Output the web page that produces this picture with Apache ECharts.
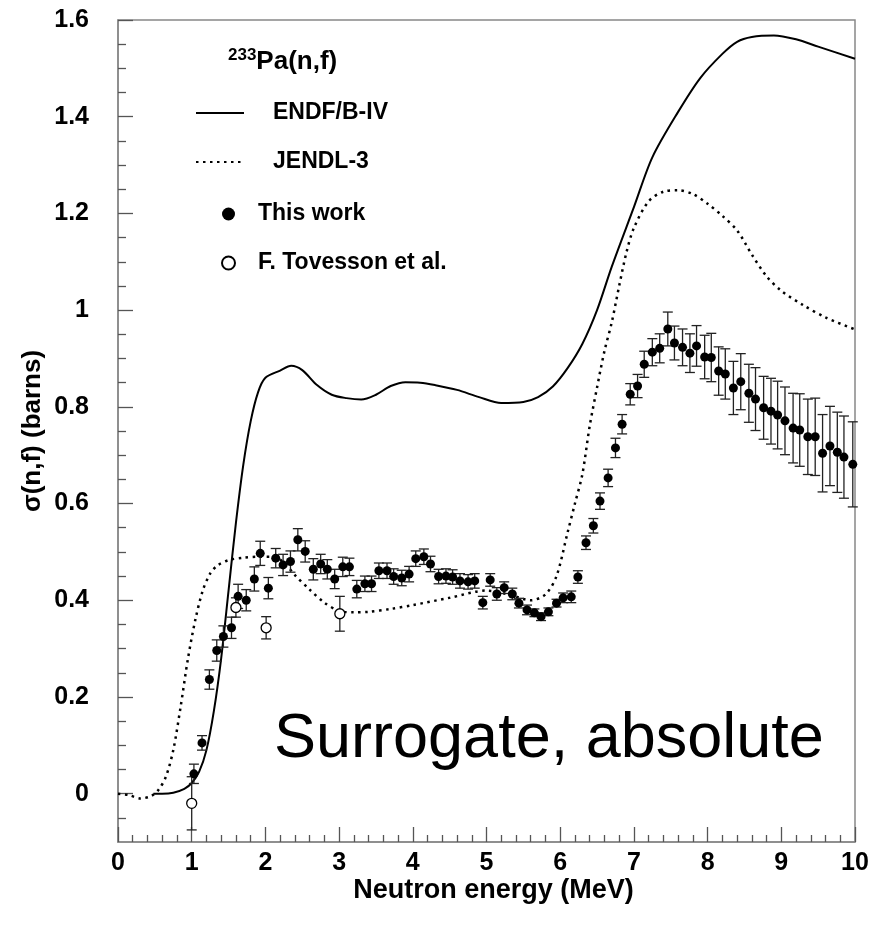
<!DOCTYPE html>
<html>
<head>
<meta charset="utf-8">
<script src="https://cdn.jsdelivr.net/npm/echarts@6/dist/echarts.min.js"></script>
<style>
html,body{margin:0;padding:0;background:#fff;}
#chart{width:878px;height:928px;}
</style>
</head>
<body>
<div id="chart"></div>
<script>
// ENDF/B-IV evaluation (solid)
var endfE = [0.48,0.6,0.75,0.9,1.0,1.1,1.2,1.3,1.4,1.5,1.6,1.7,1.8,1.9,2.0,2.2,2.35,2.5,2.7,2.9,3.1,3.3,3.5,3.7,3.9,4.1,4.3,4.6,4.9,5.2,5.5,5.7,5.9,6.1,6.3,6.5,6.7,7.0,7.25,7.6,7.9,8.2,8.4,8.6,8.9,9.2,9.5,10];
var endfS = [0,0,0.002,0.01,0.022,0.045,0.09,0.17,0.28,0.42,0.56,0.68,0.77,0.83,0.86,0.875,0.885,0.876,0.845,0.825,0.818,0.815,0.825,0.843,0.851,0.85,0.845,0.835,0.82,0.808,0.81,0.82,0.842,0.88,0.93,1.0,1.09,1.213,1.316,1.41,1.48,1.53,1.555,1.565,1.568,1.56,1.545,1.52];
// JENDL-3 evaluation (dotted)
var jendlE = [0,0.15,0.3,0.45,0.55,0.65,0.75,0.85,0.95,1.05,1.15,1.25,1.35,1.5,1.7,1.9,2.1,2.25,2.4,2.6,2.8,3.0,3.2,3.4,3.7,4.0,4.5,5.0,5.3,5.6,5.8,5.95,6.1,6.2,6.3,6.4,6.5,6.6,6.7,6.8,6.9,7.0,7.2,7.4,7.6,7.8,8.0,8.2,8.4,8.6,8.8,9.0,9.3,9.6,10];
var jendlS = [0,-0.003,-0.01,-0.005,0.008,0.035,0.09,0.18,0.28,0.36,0.42,0.455,0.472,0.483,0.488,0.49,0.49,0.478,0.452,0.422,0.395,0.378,0.375,0.376,0.382,0.39,0.405,0.42,0.412,0.40,0.412,0.45,0.54,0.60,0.66,0.76,0.84,0.915,0.975,1.05,1.12,1.17,1.225,1.245,1.248,1.24,1.22,1.195,1.165,1.115,1.07,1.04,1.01,0.985,0.96];
// This work (filled circles)
var workE = [1.03,1.14,1.24,1.34,1.43,1.54,1.63,1.74,1.85,1.93,2.04,2.14,2.24,2.34,2.44,2.54,2.65,2.75,2.84,2.94,3.05,3.14,3.24,3.35,3.44,3.54,3.65,3.74,3.85,3.95,4.04,4.15,4.24,4.35,4.45,4.54,4.64,4.75,4.84,4.95,5.05,5.14,5.24,5.35,5.44,5.55,5.65,5.74,5.84,5.95,6.04,6.15,6.24,6.35,6.45,6.54,6.65,6.75,6.84,6.95,7.05,7.14,7.25,7.35,7.46,7.55,7.66,7.76,7.85,7.96,8.05,8.15,8.24,8.35,8.45,8.56,8.65,8.76,8.86,8.95,9.05,9.16,9.25,9.36,9.46,9.56,9.66,9.76,9.85,9.97];
var workS = [0.041,0.105,0.236,0.296,0.325,0.343,0.408,0.40,0.444,0.497,0.425,0.487,0.473,0.48,0.525,0.501,0.464,0.475,0.464,0.444,0.469,0.469,0.423,0.434,0.434,0.461,0.461,0.449,0.446,0.454,0.486,0.49,0.475,0.449,0.45,0.448,0.44,0.438,0.44,0.395,0.442,0.413,0.426,0.413,0.394,0.38,0.374,0.366,0.376,0.394,0.405,0.407,0.448,0.519,0.554,0.605,0.653,0.715,0.764,0.826,0.843,0.888,0.913,0.921,0.961,0.932,0.923,0.911,0.926,0.903,0.902,0.874,0.868,0.839,0.852,0.828,0.816,0.798,0.791,0.783,0.771,0.756,0.752,0.738,0.738,0.704,0.719,0.706,0.696,0.681];
var workErr = [0.02,0.015,0.02,0.022,0.022,0.022,0.025,0.022,0.025,0.025,0.022,0.02,0.022,0.022,0.023,0.022,0.022,0.02,0.02,0.02,0.02,0.018,0.018,0.016,0.016,0.016,0.016,0.016,0.016,0.016,0.016,0.016,0.016,0.015,0.015,0.015,0.015,0.015,0.015,0.013,0.013,0.013,0.012,0.012,0.01,0.01,0.008,0.008,0.008,0.008,0.01,0.012,0.013,0.014,0.015,0.017,0.018,0.02,0.02,0.022,0.024,0.027,0.028,0.03,0.035,0.035,0.038,0.04,0.042,0.045,0.05,0.05,0.052,0.055,0.058,0.06,0.065,0.065,0.068,0.07,0.07,0.072,0.075,0.078,0.08,0.08,0.082,0.083,0.085,0.088];
// F. Tovesson et al. (open circles)
var tovE = [1.0,1.6,2.01,3.01];
var tovS = [-0.02,0.385,0.343,0.372];
var tovErr = [0.055,0.02,0.023,0.036];
// tick labels
var yTicks = [0,0.2,0.4,0.6,0.8,1.0,1.2,1.4,1.6];
var yMinorTicks = [-0.05,0.05,0.1,0.15,0.25,0.3,0.35,0.45,0.5,0.55,0.65,0.7,0.75,0.85,0.9,0.95,1.05,1.1,1.15,1.25,1.3,1.35,1.45,1.5,1.55];

function zip(a,b){return a.map(function(v,i){return [v,b[i]];});}
function zip3(a,b,c){return a.map(function(v,i){return [v,b[i],c[i]];});}

var FONT = '"Liberation Sans", Arial, Helvetica, sans-serif';

function errRender(params, api){
  var x = api.value(0), y = api.value(1), e = api.value(2);
  var t = api.coord([x, y + e]), b = api.coord([x, y - e]);
  var hw = 5;
  var st = {stroke:'#222', lineWidth:1.3};
  return {type:'group', children:[
    {type:'line', shape:{x1:t[0],y1:t[1],x2:b[0],y2:b[1]}, style:st},
    {type:'line', shape:{x1:t[0]-hw,y1:t[1],x2:t[0]+hw,y2:t[1]}, style:st},
    {type:'line', shape:{x1:b[0]-hw,y1:b[1],x2:b[0]+hw,y2:b[1]}, style:st}
  ]};
}

var chart = echarts.init(document.getElementById('chart'), null, {renderer:'canvas'});
var option = {
  backgroundColor:'#fff',
  animation:false,
  textStyle:{fontFamily:FONT},
  title:[{
    text:'{sup|233}{main|Pa(n,f)}',
    left:223, top:42,
    textStyle:{rich:{
      sup:{fontSize:17, fontWeight:'bold', fontFamily:FONT, color:'#000', verticalAlign:'top', lineHeight:30},
      main:{fontSize:26, fontWeight:'bold', fontFamily:FONT, color:'#000', lineHeight:30}
    }}
  }],
  graphic:[{
    type:'text', x:274, y:740, z:10,
    style:{text:'Surrogate, absolute', font:'63px '+FONT, fill:'#000', verticalAlign:'middle', align:'left'}
  }],
  legend:[{
    data:['ENDF/B-IV','JENDL-3'],
    orient:'vertical', left:190, top:96,
    itemWidth:48, itemHeight:14, itemGap:25,
    itemStyle:{opacity:0, color:'transparent', borderWidth:0},
    textStyle:{fontSize:23, fontWeight:'bold', color:'#000', fontFamily:FONT, lineHeight:24, padding:[0,0,0,24]},
    selectedMode:false
  },{
    data:['This work','F. Tovesson et al.'],
    orient:'vertical', left:216, top:197,
    itemWidth:13, itemHeight:13, itemGap:25,
    textStyle:{fontSize:23, fontWeight:'bold', color:'#000', fontFamily:FONT, lineHeight:24, padding:[0,0,0,18]},
    selectedMode:false
  }],
  grid:{left:118, right:23, top:20, bottom:86, show:true, borderColor:'#888', borderWidth:1.5, backgroundColor:'transparent'},
  xAxis:{
    type:'value', min:0, max:10, interval:1,
    name:'Neutron energy (MeV)', nameLocation:'middle', nameGap:35, nameMoveOverlap:false,
    nameTextStyle:{fontSize:27, fontWeight:'bold', color:'#000', fontFamily:FONT, padding:[0,0,0,14]},
    axisLine:{show:true, onZero:false, lineStyle:{color:'#888', width:1.5}},
    axisTick:{show:true, inside:true, length:15, lineStyle:{color:'#555', width:1.3}},
    minorTick:{show:true, splitNumber:5, length:7, lineStyle:{color:'#555', width:1.3}},
    splitLine:{show:false},
    axisLabel:{fontSize:25, fontWeight:'bold', color:'#000', fontFamily:FONT, margin:9}
  },
  yAxis:[{
    type:'value', min:-0.1, max:1.6,
    name:'σ(n,f) (barns)', nameLocation:'middle', nameGap:72, nameRotate:90, nameMoveOverlap:false,
    nameTextStyle:{fontSize:26, fontWeight:'bold', color:'#000', fontFamily:FONT},
    axisLine:{show:true, onZero:false, lineStyle:{color:'#888', width:1.5}},
    axisTick:{show:true, inside:true, length:15, customValues:yTicks, lineStyle:{color:'#555', width:1.3}},
    splitLine:{show:false},
    axisLabel:{customValues:yTicks, fontSize:25, fontWeight:'bold', color:'#000', fontFamily:FONT, margin:29,
      formatter:function(v){return String(Math.round(v*10)/10);}}
  },{
    type:'value', min:-0.1, max:1.6, position:'left',
    axisLine:{show:false, onZero:false},
    axisTick:{show:true, inside:true, length:8, customValues:yMinorTicks, lineStyle:{color:'#555', width:1.3}},
    axisLabel:{show:false},
    splitLine:{show:false}
  }],
  series:[{
    name:'ENDF/B-IV', type:'line', data:zip(endfE, endfS), smooth:0.3, symbol:'none',
    lineStyle:{color:'#000', width:2}, itemStyle:{color:'transparent'}, z:2
  },{
    name:'JENDL-3', type:'line', data:zip(jendlE, jendlS), smooth:0.3, symbol:'none',
    lineStyle:{color:'#000', width:2.5, type:[2.5,4.5]}, itemStyle:{color:'transparent'}, z:2
  },{
    name:'workErr', type:'custom', renderItem:errRender, data:zip3(workE, workS, workErr),
    encode:{x:0, y:1}, z:3, silent:true
  },{
    name:'tovErr', type:'custom', renderItem:errRender, data:zip3(tovE, tovS, tovErr),
    encode:{x:0, y:1}, z:3, silent:true
  },{
    name:'This work', type:'scatter', data:zip(workE, workS), symbol:'circle', symbolSize:9,
    itemStyle:{color:'#000', opacity:1}, z:4
  },{
    name:'F. Tovesson et al.', type:'scatter', data:zip(tovE, tovS), symbol:'circle', symbolSize:10,
    itemStyle:{color:'#fff', borderColor:'#000', borderWidth:1.3, opacity:1}, z:5
  }]
};
chart.setOption(option);
</script>
</body>
</html>
